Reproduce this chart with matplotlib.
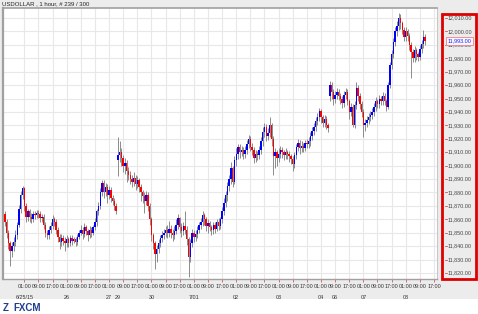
import numpy as np
import matplotlib.pyplot as plt
from matplotlib.patches import Rectangle
from matplotlib.lines import Line2D
import matplotlib.transforms as mtransforms

plt.rcParams["font.family"] = ["Liberation Sans", "DejaVu Sans"]

# hourly USDOLLAR candles (close / high / low), bar 0 = 6/24 14:00
closes = [
    11858, 11850, 11842, 11836, 11840, 11843, 11848, 11856, 11868, 11878, 11883,
    # 6/25
    11870, 11862, 11866, 11862, 11860, 11864, 11863, 11865, 11864, 11861, 11862, 11856,
    11850, 11848, 11852, 11855, 11860, 11858, 11852, 11847, 11843, 11846, 11844, 11842,
    # 6/26
    11845, 11842, 11846, 11844, 11845, 11843, 11847, 11850, 11852, 11849, 11854, 11851,
    11848, 11852, 11850, 11854, 11858, 11866, 11870, 11880, 11887, 11880, 11884, 11878,
    # 6/27
    11882, 11876, 11874, 11870, 11866,
    # 6/29
    11908, 11910, 11906, 11900, 11902, 11896, 11893, 11890, 11888, 11891, 11886, 11889,
    11884, 11880, 11877, 11874, 11878, 11870, 11860,
    # 6/30
    11848, 11842, 11834, 11838, 11842, 11846, 11848, 11850, 11852, 11850, 11853, 11850,
    11848, 11851, 11856, 11861, 11854, 11851, 11855, 11852, 11845, 11832, 11842, 11850,
    # 7/01
    11847, 11849, 11852, 11856, 11858, 11863, 11860, 11855, 11857, 11854, 11852, 11856,
    11853, 11858, 11855, 11860, 11866, 11872, 11878, 11885, 11890, 11898, 11888, 11904,
    # 7/02
    11909, 11914, 11910, 11912, 11909, 11912, 11916, 11920, 11914, 11912, 11906, 11909,
    11908, 11912, 11918, 11925, 11929, 11922, 11924, 11930, 11920, 11907, 11910, 11906,
    # 7/03
    11909, 11912, 11910, 11908, 11910, 11909, 11907, 11905, 11901, 11908, 11914, 11917,
    11913, 11915, 11913, 11917, 11916, 11918, 11922, 11926, 11929, 11933, 11936, 11941,
    # 7/04
    11936, 11932, 11935, 11930, 11928, 11960, 11955, 11950,
    # 7/06
    11953, 11955, 11952, 11950, 11947, 11953, 11955, 11948, 11940, 11944, 11930, 11945,
    11958, 11952, 11946, 11940,
    # 7/07
    11930, 11932, 11934, 11936, 11938, 11940, 11944, 11948, 11946, 11950, 11948, 11952,
    11948, 11944, 11960, 11975, 11983, 11992, 12000, 12004, 12010, 12006, 12001, 11996,
    # 7/08
    12000, 11997, 11990, 11985, 11980, 11986, 11983, 11981, 11987, 11991, 11996, 11993,
]
highs = [
    11866, 11860, 11852, 11844, 11843, 11847, 11852, 11858, 11871, 11881, 11885,
    11884, 11872, 11868, 11868, 11865, 11866, 11866, 11867, 11867, 11866, 11864, 11864,
    11858, 11852, 11855, 11858, 11863, 11862, 11860, 11854, 11849, 11849, 11848, 11847,
    11848, 11847, 11848, 11848, 11847, 11847, 11849, 11852, 11856, 11854, 11857, 11856,
    11853, 11855, 11854, 11856, 11861, 11868, 11873, 11883, 11889, 11889, 11887, 11886,
    11885, 11884, 11878, 11876, 11872,
    11921, 11918, 11913, 11908, 11906, 11904, 11899, 11896, 11893, 11895, 11893, 11892,
    11891, 11886, 11882, 11880, 11881, 11880, 11872,
    11862, 11850, 11844, 11841, 11845, 11848, 11851, 11853, 11855, 11856, 11859, 11856,
    11853, 11855, 11860, 11864, 11862, 11857, 11858, 11866, 11855, 11847, 11845, 11853,
    11852, 11852, 11855, 11858, 11861, 11866, 11865, 11862, 11860, 11859, 11856, 11858,
    11858, 11860, 11861, 11862, 11869, 11876, 11881, 11888, 11893, 11903, 11900, 11907,
    11913, 11916, 11916, 11915, 11914, 11915, 11919, 11923, 11922, 11917, 11914, 11912,
    11911, 11915, 11921, 11929, 11932, 11931, 11928, 11936, 11932, 11922, 11913, 11912,
    11913, 11915, 11914, 11912, 11913, 11912, 11911, 11909, 11907, 11910, 11916, 11920,
    11919, 11918, 11917, 11919, 11920, 11921, 11925, 11929, 11932, 11936, 11939, 11943,
    11942, 11938, 11938, 11937, 11932, 11963, 11962, 11957,
    11956, 11958, 11957, 11954, 11952, 11956, 11958, 11957, 11950, 11947, 11946, 11948,
    11962, 11960, 11954, 11948,
    11942, 11935, 11937, 11939, 11941, 11943, 11947, 11951, 11950, 11953, 11952, 11955,
    11954, 11950, 11962, 11977, 11986, 11995, 12003, 12008, 12014, 12013, 12008, 12003,
    12003, 12002, 11999, 11992, 11987, 11989, 11988, 11985, 11990, 11994, 12001, 11998,
]
lows = [
    11855, 11846, 11838, 11825, 11832, 11836, 11840, 11845, 11854, 11865, 11875,
    11866, 11858, 11859, 11858, 11857, 11858, 11860, 11861, 11861, 11858, 11858, 11853,
    11847, 11845, 11845, 11850, 11853, 11855, 11849, 11843, 11838, 11840, 11841, 11836,
    11839, 11839, 11840, 11841, 11842, 11840, 11841, 11845, 11848, 11845, 11847, 11848,
    11844, 11846, 11847, 11848, 11852, 11855, 11863, 11868, 11877, 11876, 11877, 11872,
    11875, 11873, 11871, 11867, 11864,
    11892, 11903, 11900, 11895, 11894, 11888, 11889, 11886, 11884, 11885, 11882, 11883,
    11880, 11874, 11872, 11865, 11871, 11866, 11856,
    11844, 11838, 11823, 11828, 11835, 11839, 11843, 11845, 11847, 11846, 11847, 11846,
    11844, 11845, 11849, 11853, 11850, 11847, 11848, 11849, 11841, 11817, 11828, 11839,
    11843, 11844, 11846, 11850, 11853, 11855, 11856, 11851, 11850, 11851, 11848, 11849,
    11850, 11851, 11852, 11853, 11857, 11863, 11869, 11874, 11881, 11886, 11884, 11886,
    11900, 11905, 11906, 11907, 11905, 11906, 11909, 11913, 11911, 11908, 11902, 11903,
    11904, 11905, 11909, 11915, 11921, 11918, 11919, 11921, 11915, 11893, 11898, 11900,
    11903, 11906, 11906, 11904, 11905, 11905, 11903, 11901, 11896, 11898, 11905, 11911,
    11909, 11910, 11910, 11911, 11913, 11913, 11915, 11919, 11923, 11926, 11930, 11933,
    11932, 11929, 11929, 11927, 11925, 11948, 11950, 11945,
    11947, 11950, 11949, 11946, 11943, 11944, 11950, 11945, 11935, 11937, 11929, 11928,
    11942, 11948, 11942, 11936,
    11921, 11926, 11929, 11931, 11933, 11935, 11937, 11941, 11943, 11943, 11945, 11945,
    11945, 11941, 11942, 11958, 11972, 11980, 11989, 11997, 12001, 12002, 11998, 11993,
    11993, 11993, 11986, 11965, 11977, 11977, 11979, 11978, 11979, 11984, 11988, 11990,
]
first_open = 11864
gap_opens = {64: 11904, 184: 11952}  # weekend gaps (6/29, 7/06)

tick_labels = ["01:00", "09:00", "17:00"] * 10
first_tick_bar = 11
date_labels = ["6/25/15", "26", "27", "29", "30", "7/01", "02", "03", "04", "06", "07", "08"]
date_bars = [11, 35, 59, 64, 83, 107, 131, 155, 179, 187, 203, 227]
price_ticks = list(range(11820, 12011, 10))
last_price = 11993.00

opens = [first_open] + closes[:-1]
for i, v in gap_opens.items():
    opens[i] = v

o = np.array(opens, float)
c = np.array(closes, float)
h = np.array(highs, float)
l = np.array(lows, float)
x = np.arange(len(c))

W, H = 478, 314
fig = plt.figure(figsize=(W / 100, H / 100), dpi=100, facecolor="#ececec")
fig.patches.append(Rectangle((0, 0), 1, 15 / H, transform=fig.transFigure,
                             facecolor="white", edgecolor="none", zorder=0))
ax = fig.add_axes([3 / W, 1 - 279 / H, 434 / W, 271 / H])
ax.set_facecolor("white")

ax.set_xlim(-1.06, 244.7)
ax.set_ylim(11815.5, 12017.5)

# grid
for p in price_ticks:
    ax.axhline(p, color="#e8e8e8", lw=0.8, zorder=0)
tick_pos = [first_tick_bar + 8 * k for k in range(len(tick_labels))]
for t in tick_pos:
    ax.axvline(t, color="#e8e8e8", lw=0.8, zorder=0)

# candles
up = c >= o
ax.vlines(x, l, h, color="#8c8c8c", lw=0.7, zorder=2)
body = np.maximum(np.abs(c - o), 0.8)
ax.bar(x[up], body[up], bottom=np.minimum(o, c)[up], width=0.8,
       color="#0000ff", zorder=3, linewidth=0)
ax.bar(x[~up], body[~up], bottom=np.minimum(o, c)[~up], width=0.8,
       color="#ff0000", zorder=3, linewidth=0)

# axes frame
for s in ["left", "top", "bottom"]:
    ax.spines[s].set_color("#a0a0a0")
ax.spines["left"].set_linewidth(1.6)
ax.spines["top"].set_linewidth(1.2)
ax.spines["bottom"].set_linewidth(1.0)
ax.spines["right"].set_color("#c8c8c8")

ax.set_xticks(tick_pos)
ax.set_xticklabels(tick_labels, fontsize=3.9, color="#333333")
ax.tick_params(axis="x", length=1.8, width=0.6, color="#e05050", pad=1.5)
ax.set_yticks([])

xform = mtransforms.blended_transform_factory(ax.transData, ax.transAxes)
for b, lab in zip(date_bars, date_labels):
    ax.text(b, -0.058, lab, transform=xform, fontsize=3.9, color="#333333",
            ha="center", va="top")

# right price scale
yform = mtransforms.blended_transform_factory(ax.transAxes, ax.transData)
ax_x = lambda px: (px - 3) / 434
for p in price_ticks:
    ax.add_line(Line2D([ax_x(444.5), ax_x(447)], [p, p], transform=yform,
                       color="#e05050", lw=0.6, clip_on=False))
    ax.text(ax_x(447.5), p, f"{p:,.2f}", transform=yform, fontsize=3.9,
            color="#444444", ha="left", va="center", clip_on=False)
ax.text(ax_x(447.5), last_price, f"{last_price:,.2f}", transform=yform, fontsize=3.9,
        color="#2222ee", ha="left", va="center", clip_on=False, zorder=5,
        bbox=dict(boxstyle="square,pad=0.3", facecolor="#f6f6ff",
                  edgecolor="#f08080", lw=0.6))

fig.patches.append(Rectangle((442 / W, 1 - 279 / H), 34 / W, 265 / H,
                             transform=fig.transFigure, facecolor="none",
                             edgecolor="#dd0000", lw=2.0, zorder=10))

fig.text(2 / W, 1 - 4 / H, "USDOLLAR , 1 hour, # 239 / 300", fontsize=4.3,
         color="#222222", ha="left", va="center")
fig.text(3 / W, 1 - 308 / H, "Z", fontsize=7, fontweight="bold", color="#1f3f8f",
         ha="left", va="center")
fig.text(13 / W, 1 - 308 / H, "FXCM", fontsize=7, fontweight="bold", color="#1f3f8f",
         ha="left", va="center")

fig.savefig("out.png", dpi=100, facecolor=fig.get_facecolor())
